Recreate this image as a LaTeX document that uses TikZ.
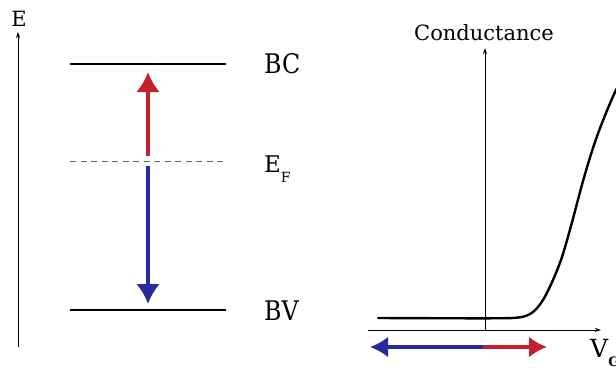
\documentclass[tikz,border=0pt]{standalone}
\usepackage{fontspec}
\setmainfont{DejaVu Serif}
\usetikzlibrary{arrows.meta}
\definecolor{myred}{RGB}{196,32,48}
\definecolor{myblue}{RGB}{40,42,160}
\tikzset{
  axis/.style={line width=0.9pt,-{Stealth[length=6pt,width=4pt]}},
  level/.style={line width=2.4pt},
  fermi/.style={line width=1pt,gray!80!black,dash pattern=on 6pt off 4.5pt},
  bigarrow/.style={line width=4pt,-{Latex[length=20pt,width=24pt]}},
  lbl/.style={inner sep=0pt,anchor=base west,font=\fontsize{27}{30}\selectfont},
  smalllbl/.style={inner sep=0pt,anchor=base,font=\fontsize{21}{24}\selectfont},
}
\begin{document}
\begin{tikzpicture}[x=1pt,y=-1pt]
\useasboundingbox (0,0) rectangle (616,367);
\clip (0,0) rectangle (616,367);
% left diagram
\coordinate (Eb) at (18,347);
\coordinate (Et) at (18,32);
\draw[axis] (Eb) -- (Et);
\node[smalllbl] (Elbl) at (19,26) {E};
\coordinate (bc1) at (70,64); \coordinate (bc2) at (226,64);
\coordinate (ef1) at (70,161.5); \coordinate (ef2) at (226,161.5);
\coordinate (bv1) at (70,310); \coordinate (bv2) at (226,310);
\draw[level] (bc1) -- (bc2);
\draw[fermi] (ef1) -- (ef2);
\draw[level] (bv1) -- (bv2);
\node[lbl] (BC) at (264,73) {\scalebox{0.88}[1]{BC}};
\node[lbl,font=\fontsize{23}{26}\selectfont] (EF) at (264,172) {E\raisebox{-10pt}{\fontsize{14}{16}\selectfont F}};
\node[lbl] (BV) at (264,320) {\scalebox{0.88}[1]{BV}};
\coordinate (r0) at (148,156); \coordinate (r1) at (148,72);
\coordinate (b0) at (148,166); \coordinate (b1) at (148,304);
\draw[bigarrow,myred] (r0) -- (r1);
\draw[bigarrow,myblue] (b0) -- (b1);
% right diagram
\coordinate (ax0) at (485,330); \coordinate (ax1) at (485,48);
\draw[axis] (ax0) -- (ax1);
\coordinate (h0) at (368,330); \coordinate (h1) at (601,330);
\draw[axis] (h0) -- (h1);
\node[smalllbl] (cond) at (484,40) {Conductance};
\node[lbl,font=\fontsize{25}{28}\selectfont] (vgs) at (590,357) {V\raisebox{-9.5pt}{\fontsize{13}{15}\selectfont\bfseries GS}};
\draw[line width=2.4pt,line cap=round] plot[smooth,tension=0.5] coordinates
  {(378,318) (490,318.3) (520,317.3) (533,312) (543,300) (553,280) (562,257) (571,226) (583,181) (593,148) (602,123) (615,92) (625,75)};
\coordinate (m) at (483,347);
\coordinate (bl) at (370,347); \coordinate (rr) at (547,347);
\draw[line width=3.5pt,myblue,-{Latex[length=18pt,width=21pt]}] (m) -- (bl);
\draw[line width=3.5pt,myred,-{Latex[length=18pt,width=21pt]}] (m) -- (rr);
\end{tikzpicture}
\end{document}
